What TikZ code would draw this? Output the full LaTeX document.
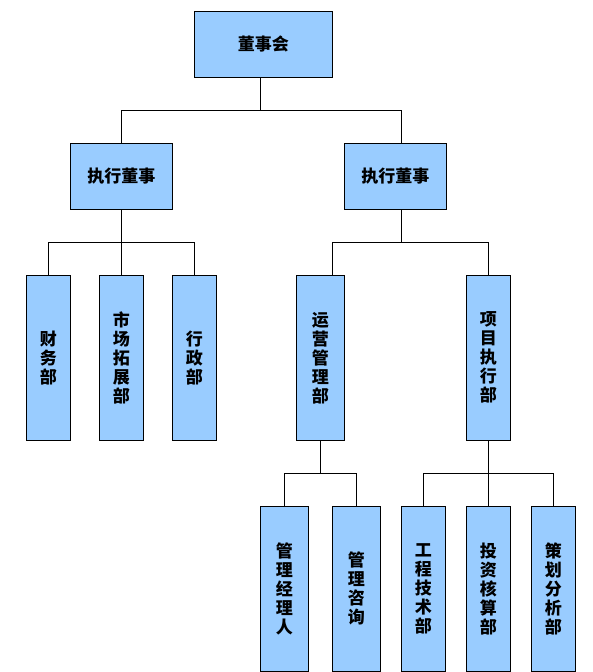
\documentclass[tikz,border=0pt]{standalone}
\usepackage{fontspec}
\newfontfamily\cjk{Noto Sans CJK SC}
\definecolor{boxblue}{RGB}{153,204,255}
\tikzset{
  orgbox/.style={draw=black, line width=1pt, fill=boxblue, inner sep=0pt, align=center,
    font=\cjk\bfseries\fontsize{17}{19}\selectfont},
  conn/.style={draw=black, line width=1pt}
}
\begin{document}
\begin{tikzpicture}[x=1pt,y=-1pt]
\useasboundingbox (0,0) rectangle (593,672);
% top
\node[orgbox, minimum width=138, minimum height=66] (dsh) at (263.3,44.3) {董事会};
\node[orgbox, minimum width=102, minimum height=66] (e1) at (121.3,176.3) {执行董事};
\node[orgbox, minimum width=102, minimum height=66] (e2) at (395.3,176.3) {执行董事};
% left leaves
\node[orgbox, minimum width=44, minimum height=165] (l1) at (48.3,357.8) {财\\务\\部};
\node[orgbox, minimum width=44, minimum height=165] (l2) at (121.3,357.8) {市\\场\\拓\\展\\部};
\node[orgbox, minimum width=44, minimum height=165] (l3) at (194.3,357.8) {行\\政\\部};
% middle right
\node[orgbox, minimum width=48, minimum height=165] (m1) at (320.3,357.8) {运\\营\\管\\理\\部};
\node[orgbox, minimum width=44, minimum height=165] (m2) at (488.3,357.8) {项\\目\\执\\行\\部};
% bottom
\node[orgbox, minimum width=48, minimum height=164.7] (b1) at (284.3,588.65) {管\\理\\经\\理\\人};
\node[orgbox, minimum width=48, minimum height=164.7] (b2) at (356.3,588.65) {管\\理\\咨\\询};
\node[orgbox, minimum width=44, minimum height=164.7] (b3) at (423.3,588.65) {工\\程\\技\\术\\部};
\node[orgbox, minimum width=44, minimum height=164.7] (b4) at (488.3,588.65) {投\\资\\核\\算\\部};
\node[orgbox, minimum width=44, minimum height=164.7] (b5) at (553.3,588.65) {策\\划\\分\\析\\部};
% junctions
\coordinate (j0) at (260.3,110.3);
\coordinate (j1) at (121.3,242.3);
\coordinate (j2) at (401.3,242.3);
\coordinate (j3) at (320.3,473.3);
\coordinate (j4) at (488.3,473.3);
% connectors
\draw[conn] ([xshift=-3]dsh.south) -- (j0);
\draw[conn] (e1.north) |- (j0) -| ([xshift=6]e2.north);
\draw[conn] (e1.south) -- (j1);
\draw[conn] (l1.north) |- (j1) -| (l3.north);
\draw[conn] (l2.north) -- (j1);
\draw[conn] ([xshift=6]e2.south) -- (j2);
\draw[conn] ([xshift=12]m1.north) |- (j2) -| (m2.north);
\draw[conn] (m1.south) -- (j3);
\draw[conn] (b1.north) |- (j3) -| (b2.north);
\draw[conn] (m2.south) -- (j4);
\draw[conn] (b3.north) |- (j4) -| (b5.north);
\draw[conn] (b4.north) -- (j4);
\end{tikzpicture}
\end{document}
